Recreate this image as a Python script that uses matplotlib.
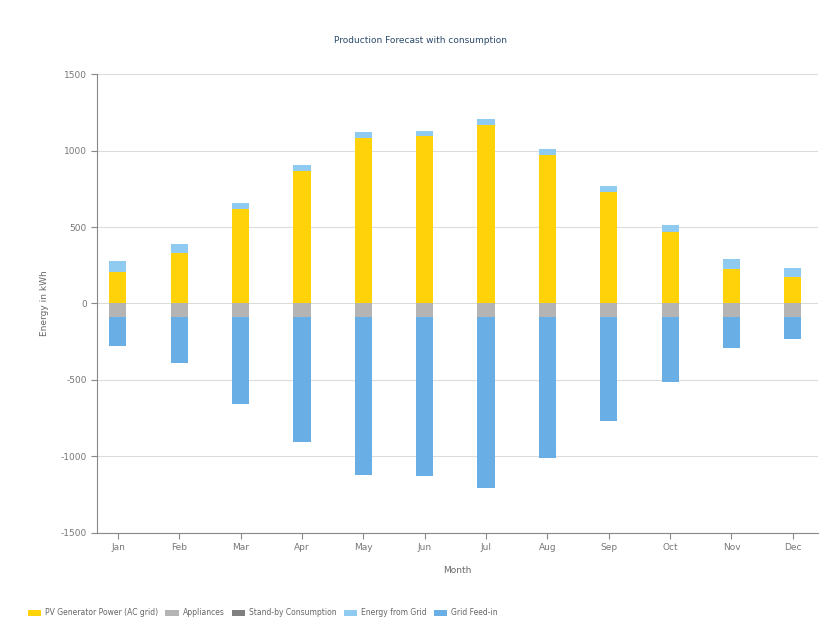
import matplotlib.pyplot as plt
import numpy as np

plt.rcParams['axes.unicode_minus'] = False

months = ['Jan', 'Feb', 'Mar', 'Apr', 'May', 'Jun', 'Jul', 'Aug', 'Sep', 'Oct', 'Nov', 'Dec']

# kWh per month
pv_power = [206, 330, 616, 866, 1084, 1097, 1167, 968, 726, 468, 228, 172]
from_grid = [72, 58, 40, 39, 36, 31, 36, 42, 40, 42, 61, 57]
appliances = [-85, -85, -85, -85, -85, -85, -85, -85, -85, -85, -85, -85]
standby = [0, 0, 0, 0, 0, 0, 0, 0, 0, 0, 0, 0]
feed_in = [-193, -304, -572, -822, -1036, -1045, -1118, -928, -681, -427, -203, -145]

labels = ['PV Generator Power (AC grid)', 'Appliances', 'Stand-by Consumption',
          'Energy from Grid', 'Grid Feed-in']
colors = ['#FFD20A', '#B4B4B4', '#808080', '#8FCBF0', '#6AAEE6']

fig = plt.figure(figsize=(8.33, 6.37), dpi=100)
ax = fig.add_axes([0.1165, 0.1633, 0.8655, 0.7205])

x = np.arange(len(months))
w = 0.28

# positive stack
ax.bar(x, pv_power, w, color=colors[0], label=labels[0], zorder=3)
ax.bar(x, from_grid, w, bottom=pv_power, color=colors[3], label=labels[3], zorder=3)

# negative stack
ax.bar(x, appliances, w, color=colors[1], label=labels[1], zorder=3)
neg = np.array(appliances)
ax.bar(x, standby, w, bottom=neg, color=colors[2], label=labels[2], zorder=3)
neg = neg + np.array(standby)
ax.bar(x, feed_in, w, bottom=neg, color=colors[4], label=labels[4], zorder=3)

ax.set_ylim(-1500, 1500)
ax.set_yticks(range(-1500, 1501, 500))
ax.set_xlim(-0.34, 11.41)
ax.set_xticks(x)
ax.set_xticklabels(months)

ax.grid(axis='y', color='#DCDCDC', linewidth=0.8, zorder=0)
for s in ['top', 'right']:
    ax.spines[s].set_visible(False)
for s in ['left', 'bottom']:
    ax.spines[s].set_color('#888888')
    ax.spines[s].set_linewidth(0.8)
ax.tick_params(colors='#888888', labelcolor='#777777', labelsize=6.5, length=4, width=0.8)

ax.set_xlabel('Month', fontsize=6.5, color='#666666', labelpad=10)
ax.set_ylabel('Energy in kWh', fontsize=6.5, color='#666666', labelpad=8)
fig.text(0.505, 0.937, 'Production Forecast with consumption', ha='center',
         va='center', fontsize=6.5, color='#2A4A6A')

handles, labs = ax.get_legend_handles_labels()
order = [labs.index(l) for l in labels]
fig.legend([handles[i] for i in order], labels, loc='lower left',
           bbox_to_anchor=(0.025, 0.02), ncol=5, frameon=False, fontsize=5.5,
           handlelength=1.8, handleheight=0.8, handletextpad=0.5, columnspacing=0.9,
           labelcolor='#666666')

fig.savefig('out.png', dpi=100)
